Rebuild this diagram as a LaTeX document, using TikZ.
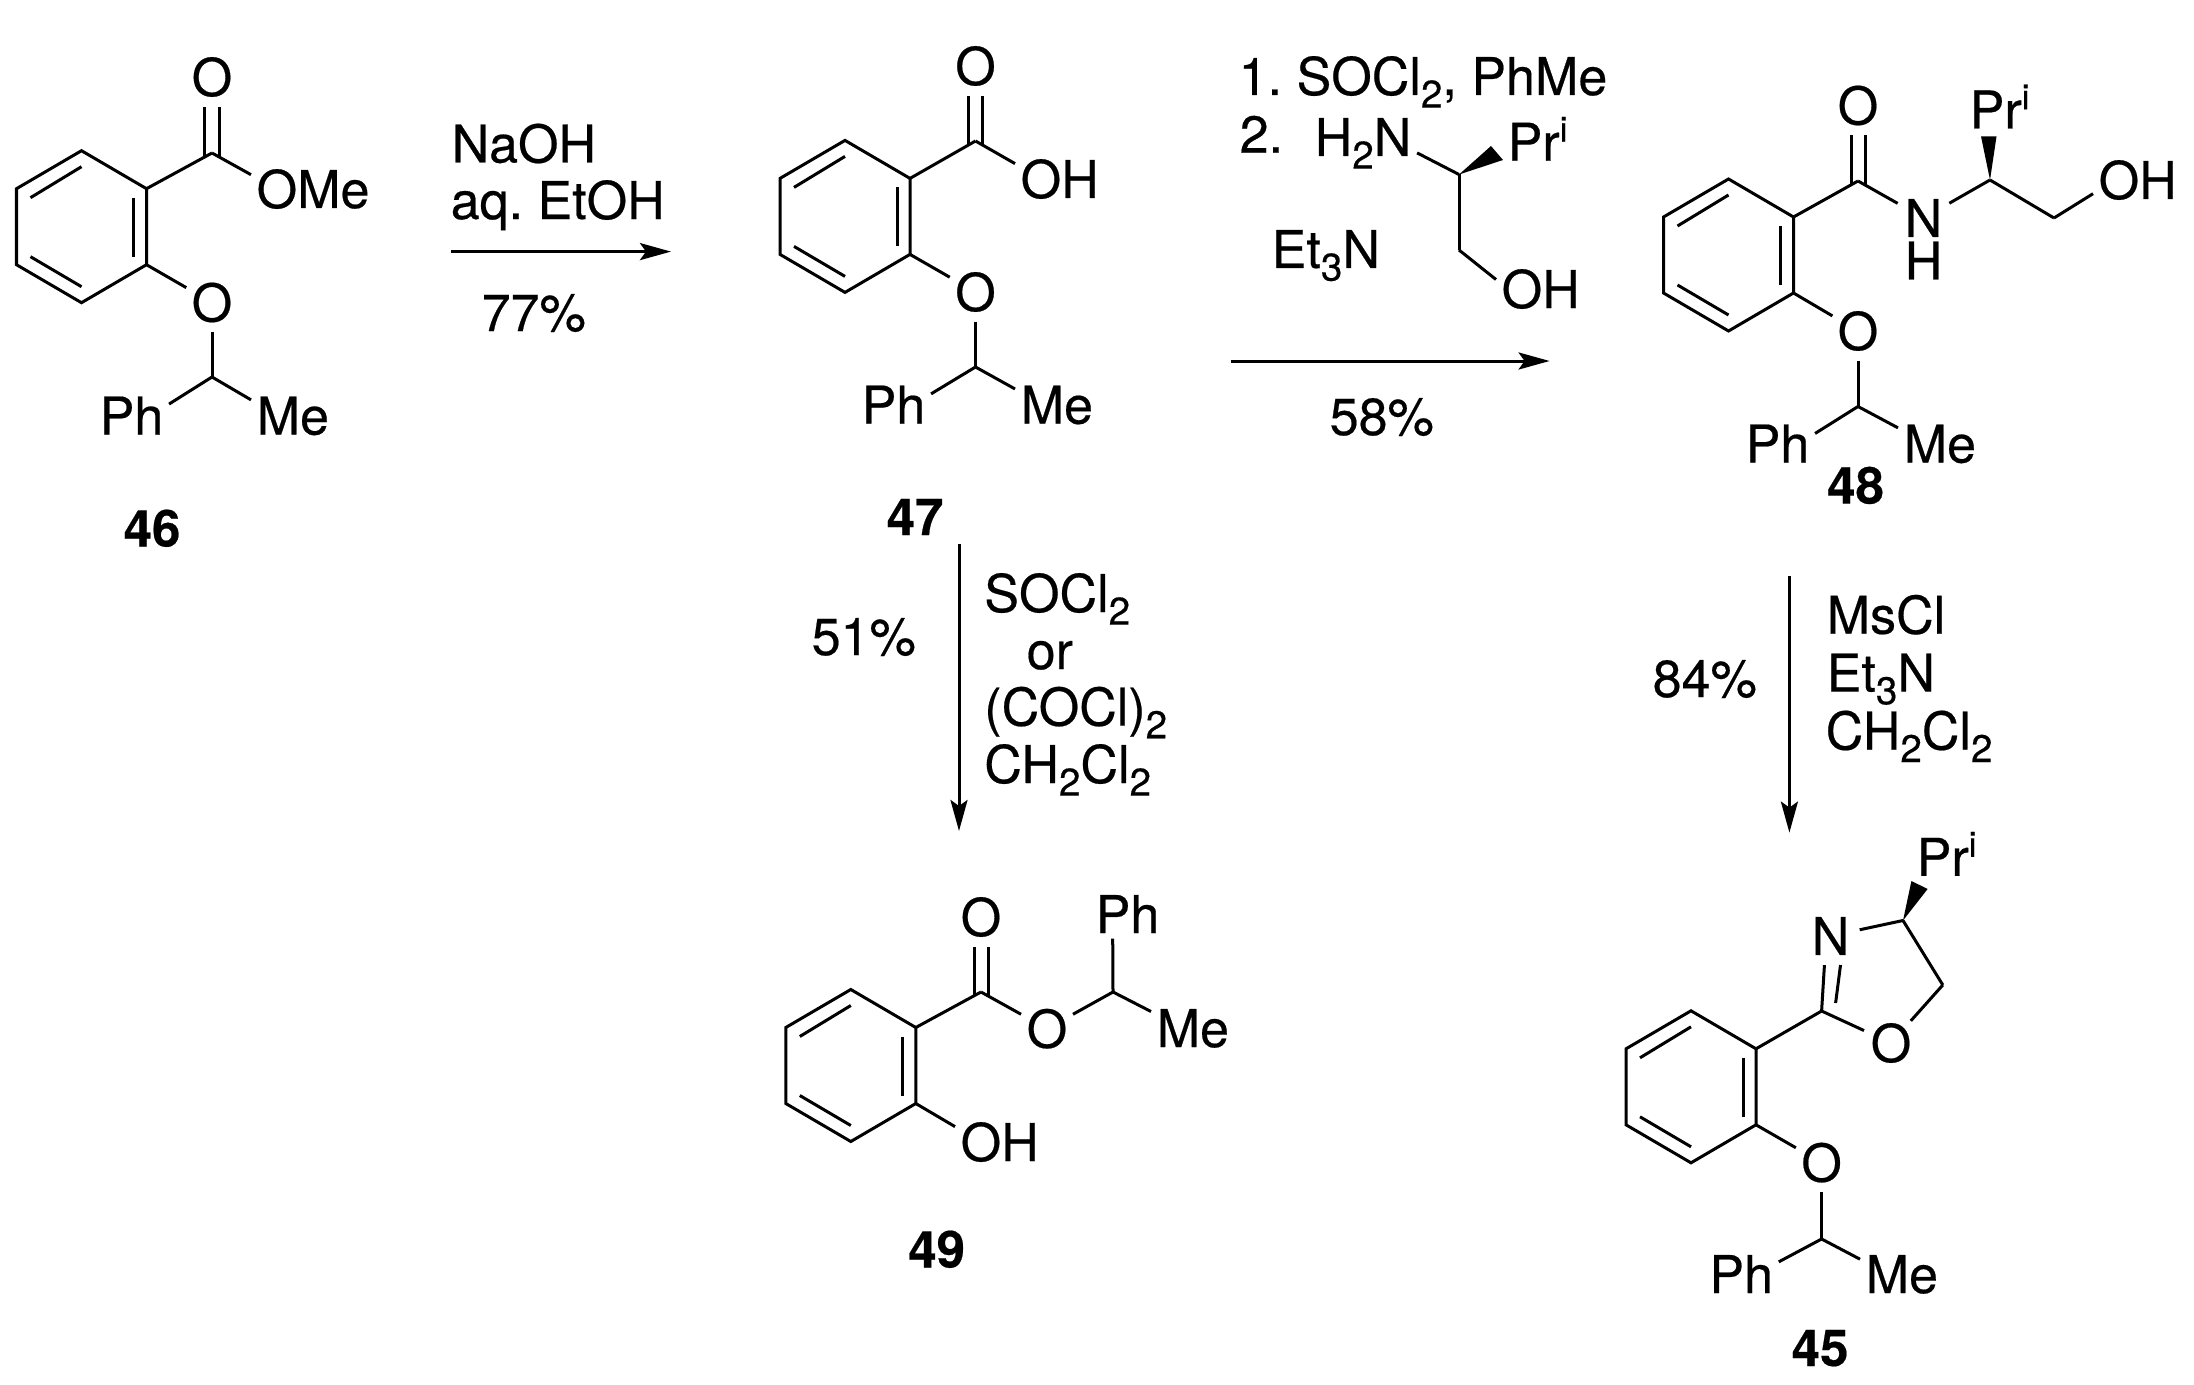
\documentclass[tikz,border=0pt]{standalone}
\usepackage{fontspec}
\setmainfont{TeX Gyre Heros}[RawFeature={embolden=0.4}]
\usetikzlibrary{arrows.meta}
\newcommand{\subn}[1]{\raisebox{-3.6pt}{\fontsize{11}{11}\selectfont #1}}
\newcommand{\supi}{\raisebox{5.4pt}{\fontsize{10}{10}\selectfont i}}
\tikzset{
  txt/.style={anchor=base west, inner sep=0.05cm, xshift=-0.03cm, font=\fontsize{14.8}{17}\selectfont},
  atom/.style={circle, inner sep=0pt, minimum size=0.58cm, font=\fontsize{14.8}{17}\selectfont},
  num/.style={anchor=base west, inner sep=0.05cm, font=\bfseries\fontsize{14.5}{17}\selectfont},
  bond/.style={line width=0.03cm},
  dbl/.style={line width=0.03cm, double, double distance=0.11cm, shorten <=-0.04cm},
  wedge/.style={fill=black},
  rxn/.style={line width=0.03cm, -{Stealth[length=0.31cm,width=0.17cm,inset=0.06cm]}}
}
\begin{document}
\begin{tikzpicture}[x=0.01cm,y=-0.01cm]
\useasboundingbox (0,0) rectangle (2194,1385);
% benzene rings
\foreach \m/\cx/\cy in {a/81.5/226.7,b/845/216.4,c/1728.5/255,d/850.8/1065.5,e/1691/1086.8}
{
 \coordinate (\m1) at (\cx,\cy-76);
 \coordinate (\m2) at (\cx+65,\cy-38);
 \coordinate (\m3) at (\cx+65,\cy+38);
 \coordinate (\m4) at (\cx,\cy+76);
 \coordinate (\m5) at (\cx-65,\cy+38);
 \coordinate (\m6) at (\cx-65,\cy-38);
 \coordinate (\m7) at (\cx-51,\cy-29);
 \coordinate (\m8) at (\cx,\cy-60);
 \coordinate (\m9) at (\cx+52,\cy-29);
 \coordinate (\m10) at (\cx+52,\cy+30);
 \coordinate (\m11) at (\cx-51,\cy+30);
 \coordinate (\m12) at (\cx,\cy+60);
 \draw[bond] (\m1) -- (\m2) -- (\m3) -- (\m4) -- (\m5) -- (\m6) -- cycle;
 \foreach \from/\to in {7/8,9/10,11/12}
  \draw[bond] (\m\from) -- (\m\to);
}
% carbons
\coordinate (ca) at (212,153);
\coordinate (cha) at (212,377);
\coordinate (cb) at (975.5,141);
\coordinate (chb) at (975.5,367);
\coordinate (cc) at (1858,181);
\coordinate (chc) at (1858,406.5);
\coordinate (cn) at (1990,180);
\coordinate (cm) at (2054,218);
\coordinate (cd) at (981,992);
\coordinate (chd) at (1113,992);
\coordinate (ce) at (1821.6,1011);
\coordinate (che) at (1821.6,1239);
\coordinate (cq) at (1942.8,985);
\coordinate (cr) at (1903,920.5);
\coordinate (am) at (1459,174.5);
\coordinate (an) at (1459,250);
% wedge corners, inner C=N line
\coordinate (wa) at (1491,146);
\coordinate (wb) at (1503,160);
\coordinate (wc) at (1981,136.4);
\coordinate (wd) at (1996.5,136.4);
\coordinate (we) at (1911.4,881);
\coordinate (wf) at (1927.6,889);
\coordinate (ia) at (1840.5,965);
\coordinate (ib) at (1835.6,1003);
% arrow ends
\coordinate (sa) at (451,251.6);
\coordinate (ta) at (671,251.6);
\coordinate (sb) at (1230.6,361);
\coordinate (tb) at (1549.6,361);
\coordinate (sc) at (959,544);
\coordinate (tc) at (959,831);
\coordinate (sd) at (1789.4,576);
\coordinate (td) at (1789.4,832.6);
% 46
\node[atom](oxa) at (212,77){O};
\node[atom](oya) at (212,302.5){O};
\node[txt](omea) at (254,208){OMe};
\node[txt](pha) at (97,434.5){Ph};
\node[txt](mea) at (254,434.5){Me};
\node[num](na) at (118,546.5){46};
% 47
\node[atom](oxb) at (975.5,66){O};
\node[atom](oyb) at (975.5,292){O};
\node[txt](ohb) at (1018,198){OH};
\node[txt](phb) at (859,423.6){Ph};
\node[txt](meb) at (1018,423.6){Me};
\node[num](nb) at (881,535){47};
% 48
\node[atom](oxc) at (1858,105.5){O};
\node[atom](oyc) at (1858,331){O};
\node[atom](nc) at (1923.5,218){N};
\node[atom](hc) at (1923.5,260.5){H};
\node[txt](prc) at (1967,128.4){Pr\supi};
\node[txt](ohc) at (2096,199){OH};
\node[txt](phc) at (1743,462.5){Ph};
\node[txt](mec) at (1901,462.5){Me};
\node[num](numc) at (1821.5,503.6){48};
% 49
\node[atom](oxd) at (981,917){O};
\node[atom](oyd) at (1047,1028.7){O};
\node[txt](ohd) at (958,1161){OH};
\node[txt](phd) at (1093,933){Ph};
\node[txt](med) at (1154,1047){Me};
\node[num](nd) at (902.6,1267.5){49};
% 45
\node[atom](ne) at (1830.6,936){N};
\node[atom](oxe) at (1891,1043){O};
\node[atom](oye) at (1821.6,1162.6){O};
\node[txt](pre) at (1914,875.8){Pr\supi};
\node[txt](phe) at (1706.7,1293){Ph};
\node[txt](mee) at (1863,1293){Me};
\node[num](nume) at (1786,1366){45};
% reagents
\node[txt](naoh) at (449,162.5){NaOH};
\node[txt](etoh) at (448,219){aq.\ EtOH};
\node[txt](ya) at (479,331){77\%};
\node[txt](soa) at (1236,95){1.\ SOCl\subn{2}, PhMe};
\node[txt](two) at (1237,152.7){2.};
\node[txt](hn) at (1312,156){H\subn{2}N};
\node[txt](pr) at (1505,160.7){Pr\supi};
\node[txt](oh) at (1499,308){OH};
\node[txt](eta) at (1269,268){Et\subn{3}N};
\node[txt](yb) at (1327,435){58\%};
\node[txt](yc) at (809,655){51\%};
\node[txt](sob) at (981.6,612){SOCl\subn{2}};
\node[txt](orr) at (1024,669){or};
\node[txt](cocl) at (981.6,725.6){(COCl)\subn{2}};
\node[txt](dcm) at (981.6,783){CH\subn{2}Cl\subn{2}};
\node[txt](yd) at (1650,697){84\%};
\node[txt](ms) at (1824,633.7){MsCl};
\node[txt](etb) at (1824,691.6){Et\subn{3}N};
\node[txt](dcmb) at (1823,749.5){CH\subn{2}Cl\subn{2}};
% bonds
\foreach \from/\to in {ca/oxa,cb/oxb,cc/oxc,cd/oxd}
 \draw[dbl] (\from) -- (\to);
\foreach \from/\to in {a2/ca,ca/omea.167,a3/oya,oya/cha,cha/pha.17,cha/mea.159,
 b2/cb,cb/ohb.161,b3/oyb,oyb/chb,chb/phb.16,chb/meb.159,
 c2/cc,cc/nc,nc/cn,cn/cm,cm/ohc.197,c3/oyc,oyc/chc,chc/phc.15,chc/mec.159,
 d2/cd,cd/oyd,oyd/chd,chd/phd.239,chd/med.158,d3/ohd.161,
 e2/ce,ce/ne.258,ia/ib,ce/oxe,oxe/cq,cq/cr,cr/ne,e3/oye,oye/che,che/phe.18,che/mee.160,
 hn.350/am,am/an,an/oh.168}
 \draw[bond] (\from) -- (\to);
% wedges
\foreach \tip/\p/\q in {am/wa/wb,cn/wc/wd,cr/we/wf}
 \fill[wedge] (\tip) -- (\p) -- (\q) -- cycle;
% arrows
\foreach \from/\to in {sa/ta,sb/tb,sc/tc,sd/td}
 \draw[rxn] (\from) -- (\to);
\end{tikzpicture}
\end{document}
